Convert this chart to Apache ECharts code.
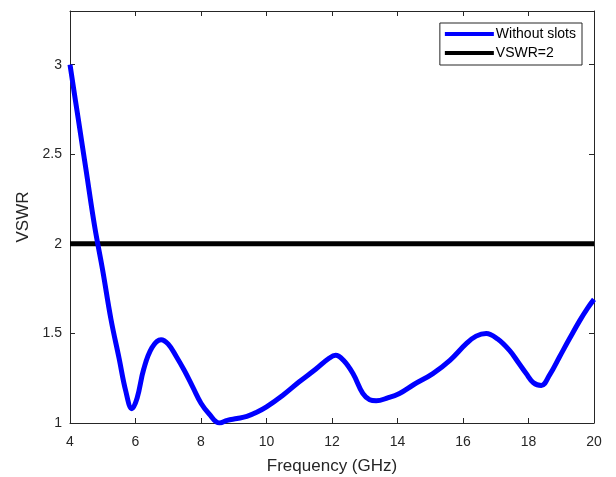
<!DOCTYPE html>
<html lang="en">
<head>
    <meta charset="UTF-8">
    <title>VSWR</title>
    <style>
        body{ margin:0; background:#fff; }
        #main{ width:616px; height:477px; }
    </style>
    <script src="https://cdn.jsdelivr.net/npm/echarts@6/dist/echarts.min.js"></script>
</head>
<body>
<div id="main"></div>
<script type="text/javascript">
    // values
    var freq = [4.0, 4.25, 4.5, 4.75, 5.0, 5.25, 5.5, 5.7, 5.89, 6.05, 6.25, 6.5, 6.78, 7.0, 7.25, 7.5, 7.75, 8.0, 8.25, 8.56, 8.8, 9.1, 9.4, 9.7, 10.0, 10.5, 11.0, 11.5, 11.9, 12.11, 12.35, 12.64, 12.94, 13.15, 13.35, 13.7, 14.06, 14.5, 15.08, 15.6, 16.1, 16.4, 16.71, 17.05, 17.42, 17.7, 17.93, 18.15, 18.39, 18.65, 18.95, 19.25, 19.56, 19.8, 20.0];
    var vswr = [3.0, 2.7, 2.4, 2.1, 1.85, 1.58, 1.36, 1.18, 1.08, 1.14, 1.30, 1.42, 1.465, 1.44, 1.37, 1.29, 1.20, 1.11, 1.05, 1.0, 1.015, 1.025, 1.037, 1.06, 1.09, 1.155, 1.23, 1.30, 1.36, 1.378, 1.35, 1.276, 1.165, 1.13, 1.124, 1.14, 1.165, 1.215, 1.276, 1.35, 1.443, 1.485, 1.50, 1.47, 1.405, 1.335, 1.276, 1.225, 1.21, 1.27, 1.37, 1.47, 1.57, 1.64, 1.69];
    var refLevel = 2;
    var xTicks = [4, 6, 8, 10, 12, 14, 16, 18, 20];
    var yTicks = [1, 1.5, 2, 2.5, 3];
    var yTop = 3.3;

    var myChart = echarts.init(document.getElementById('main'));

    var curve = [];
    for (var i = 0; i < freq.length; i++) {
        curve.push([freq[i], vswr[i]]);
    }

    var axisColor = '#262626';
    var font = 'Liberation Sans, Arial, sans-serif';

    function boxAxis(extra){
        var a = {
            axisLine: { show: true, onZero: false, lineStyle: { color: axisColor, width: 1 } },
            axisTick: { show: true, inside: true, length: 5, lineStyle: { color: axisColor } },
            axisLabel: { show: false },
            splitLine: { show: false }
        };
        for (var k in extra) a[k] = extra[k];
        return a;
    }

    var xBase = { type: 'value', min: xTicks[0], max: xTicks[xTicks.length - 1], interval: 2 };
    var yBase = { type: 'value', min: yTicks[0], max: yTop, interval: 0.5 };

    var yLab = function(v){ return yTicks.indexOf(v) >= 0 ? String(v) : ''; };

    var option = {
        animation: false,
        grid: { left: 70, right: 22, top: 11, bottom: 54, containLabel: false, outerBoundsMode: 'none' },
        legend: {
            right: 34, top: 23,
            orient: 'vertical',
            itemGap: 5,
            itemWidth: 49, itemHeight: 4,
            padding: [4, 6, 5, 5],
            borderColor: '#262626', borderWidth: 1,
            backgroundColor: '#fff',
            textStyle: { color: '#000', fontSize: 14, fontFamily: font, padding: [0, 0, 0, -3] },
            data: [
                { name: 'Without slots', icon: 'rect', itemStyle: { color: '#0000ff' } },
                { name: 'VSWR=2', icon: 'rect', itemStyle: { color: '#000' } }
            ]
        },
        xAxis: [
            boxAxis(Object.assign({}, xBase, {
                position: 'bottom',
                name: 'Frequency (GHz)', nameLocation: 'middle', nameGap: 35,
                nameTextStyle: { color: axisColor, fontSize: 17, fontFamily: font },
                axisLabel: { show: true, color: axisColor, fontSize: 14, fontFamily: font, margin: 12 }
            })),
            boxAxis(Object.assign({}, xBase, { position: 'top' }))
        ],
        yAxis: [
            boxAxis(Object.assign({}, yBase, {
                position: 'left',
                name: 'VSWR', nameLocation: 'middle', nameGap: 26, nameRotate: 90,
                nameTextStyle: { color: axisColor, fontSize: 17, fontFamily: font },
                axisLabel: { show: true, color: axisColor, fontSize: 14, fontFamily: font, margin: 8, formatter: yLab, showMaxLabel: false }
            })),
            boxAxis(Object.assign({}, yBase, { position: 'right' }))
        ],
        series: [
            {
                name: 'Without slots',
                type: 'line',
                xAxisIndex: 0, yAxisIndex: 0,
                smooth: 0.4,
                symbol: 'none',
                lineStyle: { color: '#0000ff', width: 5 },
                itemStyle: { color: '#0000ff' },
                data: curve,
                z: 3
            },
            {
                name: 'VSWR=2',
                type: 'line',
                xAxisIndex: 0, yAxisIndex: 0,
                symbol: 'none',
                lineStyle: { color: '#000', width: 5 },
                itemStyle: { color: '#000' },
                data: [[xTicks[0], refLevel], [xTicks[xTicks.length - 1], refLevel]],
                z: 2
            }
        ]
    };

    myChart.setOption(option);
</script>
</body>
</html>
